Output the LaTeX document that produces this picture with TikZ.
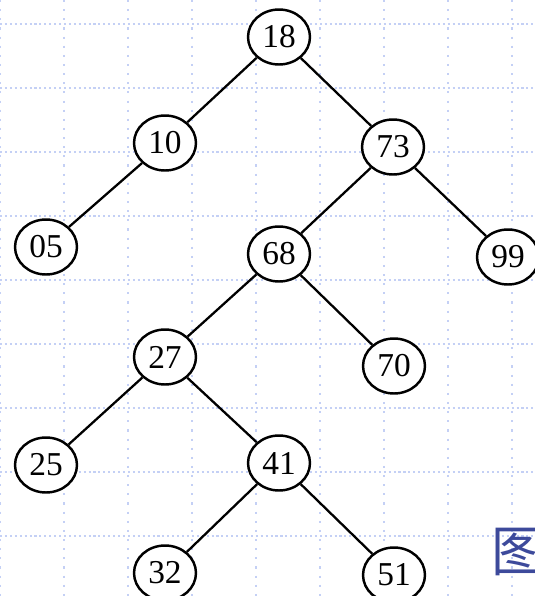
\documentclass[tikz,border=0pt]{standalone}
\usepackage{fontspec}
\setmainfont{Liberation Serif}
\newfontfamily\cjk{Noto Sans CJK SC}
\usetikzlibrary{shapes.geometric}
\definecolor{GridBlue}{HTML}{C4D0F5}
\definecolor{InkBlue}{HTML}{3D4A9B}

\begin{document}
\begin{tikzpicture}[x=0.02cm,y=-0.02cm,every node/.style={text=black},key/.style={ellipse,draw,line width=1.4pt,fill=white,minimum width=1.24cm,minimum height=1.1cm,inner sep=0pt,font=\fontsize{19}{21}\selectfont},link/.style={line width=1.3pt},gridline/.style={GridBlue,line width=1pt,dash pattern=on 1.2pt off 1.6pt}]
\useasboundingbox (0,0) rectangle (535,596);
\clip (0,0) rectangle (535,596);
% background grid
\foreach \gx in {0,64,...,512} \draw[gridline,dash pattern=on 1.2pt off 4pt] (\gx,0) -- (\gx,596);
\foreach \gy in {24,88,...,536} \draw[gridline] (0,\gy) -- (535,\gy);
% keys
\node[key] (n18) at (279,37) {18};
\node[key] (n10) at (165,143) {10};
\node[key] (n73) at (393,147) {73};
\node[key] (n05) at (46,247) {05};
\node[key] (n68) at (279,254) {68};
\node[key] (n99) at (508,257) {99};
\node[key] (n27) at (165,357) {27};
\node[key] (n70) at (394,366) {70};
\node[key] (n25) at (46,465) {25};
\node[key] (n41) at (279,463) {41};
\node[key] (n32) at (165,573) {32};
\node[key] (n51) at (394,575) {51};
% links
\draw[link] (n18) -- (n10);
\draw[link] (n18) -- (n73);
\draw[link] (n10) -- (n05);
\draw[link] (n73) -- (n68);
\draw[link] (n73) -- (n99);
\draw[link] (n68) -- (n27);
\draw[link] (n68) -- (n70);
\draw[link] (n27) -- (n25);
\draw[link] (n27) -- (n41);
\draw[link] (n41) -- (n32);
\draw[link] (n41) -- (n51);
\node[anchor=west,inner sep=0pt,text=InkBlue,font=\cjk\fontsize{31}{31}\selectfont] (cap) at (491,552) {图};
\end{tikzpicture}
\end{document}
